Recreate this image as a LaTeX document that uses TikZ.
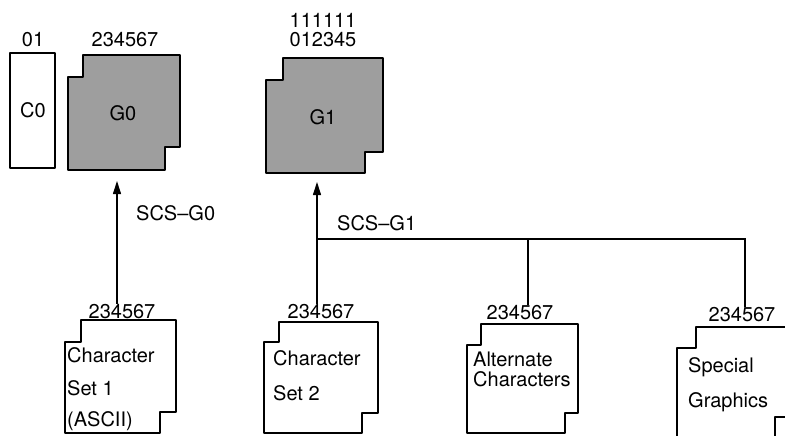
\documentclass[tikz,border=0pt]{standalone}
\usepackage{fontspec}
\setmainfont{TeX Gyre Heros}
\usetikzlibrary{arrows.meta,positioning}

\tikzset{
  setbox/.style={line width=2.4pt,line join=round},
  gbox/.style={setbox,fill=black!38},
  conn/.style={line width=1.1pt},
  lbl/.style={font=\fontsize{20}{22}\selectfont,inner sep=1pt},
  txt/.style={lbl,anchor=west},
}

\begin{document}
\begin{tikzpicture}[x=1pt,y=-1pt,>={Triangle[length=13pt,width=8pt]}]
  \useasboundingbox (0,0) rectangle (785,436);
  \clip (0,0) rectangle (785,436);

  % control set C0
  \draw[setbox] (10,53) rectangle (55,168);
  \node[lbl] (c0n) at (33,40) {01};
  \node[lbl] (c0) at (33,110) {C0};

  % graphic sets G0 and G1
  \draw[gbox] (83,55) -- (180,55) -- (180,147) -- (165,147) -- (165,170)
    -- (68,170) -- (68,77) -- (83,77) -- cycle;
  \node[lbl] (g0n) at (125,40) {234567};
  \node[lbl] (g0) at (123,113) {G0};

  \draw[gbox] (283,58) -- (383,58) -- (383,152) -- (365,152) -- (365,173)
    -- (266,173) -- (266,80) -- (283,80) -- cycle;
  \node[lbl,align=center] (g1n) at (323,30) {111111\\[-3pt]012345};
  \node[lbl] (g1) at (323,117) {G1};

  % character sets
  \draw[setbox] (81,320) -- (176,320) -- (176,412) -- (160,412) -- (160,433)
    -- (65,433) -- (65,342) -- (81,342) -- cycle;
  \node[lbl] (cs1n) at (122,312) {234567};
  \node[txt] (cs1a) at (66,355) {Character};
  \node[txt] (cs1b) at (66,388) {Set 1};
  \node[txt] (cs1c) at (66,421) {(ASCII)};

  \draw[setbox] (279,322) -- (378,322) -- (378,413) -- (362,413) -- (362,433)
    -- (264,433) -- (264,342) -- (279,342) -- cycle;
  \node[lbl] (cs2n) at (321,312) {234567};
  \node[txt] (cs2a) at (272,358) {Character};
  \node[txt] (cs2b) at (272,393) {Set 2};

  \draw[setbox] (481,324) -- (578,324) -- (578,413) -- (565,413) -- (565,433)
    -- (467,433) -- (467,345) -- (481,345) -- cycle;
  \node[lbl] (altn) at (520,313) {234567};
  \node[txt] (alta) at (472,359) {Alternate};
  \node[txt] (altb) at (472,379) {Characters};

  \draw[setbox] (696,327) -- (800,327) -- (800,417) -- (775,417) -- (775,450)
    -- (677,450) -- (677,348) -- (696,348) -- cycle;
  \node[lbl] (spgn) at (742,315) {234567};
  \node[txt] (spga) at (687,367) {Special};
  \node[txt] (spgb) at (687,402) {Graphics};

  % designation paths
  \coordinate (g0in) at (117,181);
  \draw[conn,->] (g0in |- cs1n.north) -- (g0in);
  \node[lbl,anchor=west] (scs0) at (135,213) {SCS--G0};

  \coordinate (g1in) at (317,182);
  \coordinate (bus) at (317,239);
  \coordinate (busmid) at (528,239);
  \coordinate (busend) at (745,239);
  \draw[conn,->] (bus |- cs2n.north) -- (g1in);
  \draw[conn] (bus) -- (busend) -- (busend |- spgn.north);
  \draw[conn] (busmid) -- (busmid |- altn.north);
  \node[lbl,anchor=west] (scs1) at (336,223) {SCS--G1};
\end{tikzpicture}
\end{document}
